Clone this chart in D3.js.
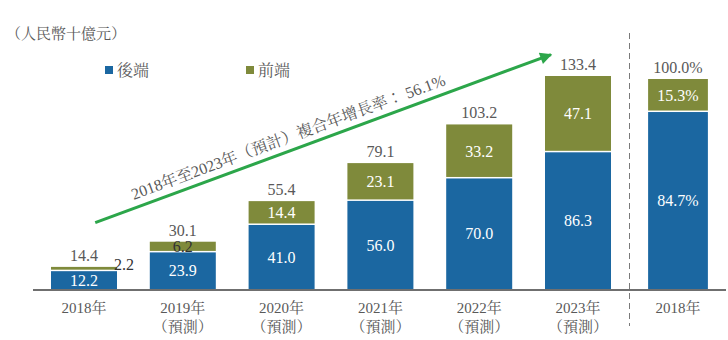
<!DOCTYPE html>
<html>
<head>
<meta charset="utf-8">
<script src="https://cdn.jsdelivr.net/npm/d3@7"></script>
<style>
  html, body { margin: 0; padding: 0; background: #fff; }
  svg { display: block; }
</style>
</head>
<body>
<svg id="chart" width="728" height="340"></svg>
<script>
// Market size by year, RMB billions
const years = ["2018年", "2019年", "2020年", "2021年", "2022年", "2023年"];
const yearNotes = ["", "（預測）", "（預測）", "（預測）", "（預測）", "（預測）"];
const backEnd = [12.2, 23.9, 41.0, 56.0, 70.0, 86.3];
const frontEnd = [2.2, 6.2, 14.4, 23.1, 33.2, 47.1];
const totals = [14.4, 30.1, 55.4, 79.1, 103.2, 133.4];

// 2018 share split, percent
const shareLabel = "2018年";
const shareBack = 84.7;
const shareFront = 15.3;
const shareTotal = 100.0;

const seriesNames = ["後端", "前端"];
const unitLabel = "（人民幣十億元）";
const cagrText = "2018年至2023年（預計）複合年增長率： 56.1%";

const BLUE = "#1b67a1";
const OLIVE = "#7f8a3b";
const ARROW = "#2ca64a";
const GREY = "#595959";
const FONT = "'Liberation Serif', 'Noto Serif CJK TC', 'Noto Sans CJK TC', serif";

const svg = d3.select("#chart");
const baseY = 290;

const x = d3.scaleBand().domain(years).range([34.6, 627.4])
  .paddingInner(0.332).paddingOuter(0.166);
const y = d3.scaleLinear().domain([0, 133.4]).range([baseY, 76]);

const xs = d3.scaleBand().domain([shareLabel]).range([629, 727])
  .paddingInner(0.39).paddingOuter(0.195);
const ys = d3.scaleLinear().domain([0, 100]).range([baseY, 79]);

const rows = years.map((yr, i) => ({
  yr, note: yearNotes[i], back: backEnd[i], front: frontEnd[i], total: totals[i]
}));

// unit label
svg.append("text").attr("x", 6).attr("y", 39)
  .attr("font-family", FONT).attr("font-size", 15).attr("fill", GREY)
  .text(unitLabel);

// legend
const legend = [
  { name: seriesNames[0], color: BLUE, x: 105 },
  { name: seriesNames[1], color: OLIVE, x: 246 }
];
const lg = svg.selectAll("g.legend").data(legend).join("g").attr("class", "legend")
  .attr("transform", d => `translate(${d.x},70)`);
lg.append("rect").attr("x", 0).attr("y", -4).attr("width", 8).attr("height", 8)
  .attr("fill", d => d.color);
lg.append("text").attr("x", 12).attr("y", 5.5)
  .attr("font-family", FONT).attr("font-size", 16).attr("fill", GREY)
  .text(d => d.name);

// stacked bars
const bars = svg.append("g");
bars.selectAll("rect.back").data(rows).join("rect").attr("class", "back")
  .attr("x", d => x(d.yr)).attr("width", x.bandwidth())
  .attr("y", d => y(d.back) + 0.75).attr("height", d => baseY - y(d.back) - 0.75)
  .attr("fill", BLUE);
bars.selectAll("rect.front").data(rows).join("rect").attr("class", "front")
  .attr("x", d => x(d.yr)).attr("width", x.bandwidth())
  .attr("y", d => y(d.total)).attr("height", d => y(d.back) - y(d.total) - 0.75)
  .attr("fill", OLIVE);

// share bar
svg.append("rect").attr("x", xs(shareLabel)).attr("width", xs.bandwidth())
  .attr("y", ys(shareBack) + 0.75).attr("height", baseY - ys(shareBack) - 0.75)
  .attr("fill", BLUE);
svg.append("rect").attr("x", xs(shareLabel)).attr("width", xs.bandwidth())
  .attr("y", ys(shareTotal)).attr("height", ys(shareBack) - ys(shareTotal) - 0.75)
  .attr("fill", OLIVE);

// axis baseline
svg.append("line").attr("x1", 33).attr("x2", 726).attr("y1", baseY).attr("y2", baseY)
  .attr("stroke", "#6f6f6f").attr("stroke-width", 2);

// divider between forecast and share panels
svg.append("line").attr("x1", 629.5).attr("x2", 629.5).attr("y1", 33).attr("y2", 326)
  .attr("stroke", "#7a7a7a").attr("stroke-width", 1).attr("stroke-dasharray", "6,4");

// value labels
const lab = svg.append("g").attr("font-family", FONT).attr("font-size", 16)
  .attr("text-anchor", "middle");
const cx = d => x(d.yr) + x.bandwidth() / 2;
const fmt = d3.format(".1f");

lab.selectAll("text.total").data(rows).join("text").attr("class", "total")
  .attr("x", cx).attr("y", d => y(d.total) - 6).attr("fill", GREY)
  .text(d => fmt(d.total));

lab.selectAll("text.back").data(rows).join("text").attr("class", "back")
  .attr("x", cx).attr("y", d => (y(d.back) + baseY) / 2 + 5.5).attr("fill", "#fff")
  .text(d => fmt(d.back));

// small front segments: text sits outside (first) or darkened (second)
lab.selectAll("text.front").data(rows).join("text").attr("class", "front")
  .attr("x", (d, i) => i === 0 ? x(d.yr) + x.bandwidth() + 7 : cx(d))
  .attr("y", (d, i) => i === 0 ? y(d.total) + 3 : (y(d.total) + y(d.back)) / 2 + 5.5)
  .attr("fill", (d, i) => i < 2 ? "#333" : "#fff")
  .text(d => fmt(d.front));

const scx = xs(shareLabel) + xs.bandwidth() / 2;
lab.append("text").attr("x", scx).attr("y", ys(shareTotal) - 6).attr("fill", GREY)
  .text(fmt(shareTotal) + "%");
lab.append("text").attr("x", scx).attr("y", (ys(shareTotal) + ys(shareBack)) / 2 + 5.5)
  .attr("fill", "#fff").text(fmt(shareFront) + "%");
lab.append("text").attr("x", scx).attr("y", (ys(shareBack) + baseY) / 2 + 5.5)
  .attr("fill", "#fff").text(fmt(shareBack) + "%");

// category labels
const cat = svg.append("g").attr("font-family", FONT).attr("font-size", 15)
  .attr("fill", GREY).attr("text-anchor", "middle");
cat.selectAll("text.yr").data(rows).join("text").attr("class", "yr")
  .attr("x", cx).attr("y", 313).text(d => d.yr);
cat.selectAll("text.note").data(rows.filter(d => d.note)).join("text").attr("class", "note")
  .attr("x", cx).attr("y", 332).text(d => d.note);
cat.append("text").attr("x", scx).attr("y", 313).text(shareLabel);

// growth arrow with its annotation
const defs = svg.append("defs");
defs.append("marker").attr("id", "head").attr("viewBox", "0 0 10 10")
  .attr("refX", 9).attr("refY", 5).attr("markerWidth", 5).attr("markerHeight", 4)
  .attr("markerUnits", "strokeWidth").attr("orient", "auto")
  .append("path").attr("d", "M0,0 L10,5 L0,10 Z").attr("fill", ARROW);

const a0 = [x(years[0]) + x.bandwidth() * 0.67, y(42)];
const a1 = [x(years[5]) + 10, y(147.7)];
svg.append("line").attr("x1", a0[0]).attr("y1", a0[1]).attr("x2", a1[0] - 4).attr("y2", a1[1] + 1.5)
  .attr("stroke", ARROW).attr("stroke-width", 3).attr("marker-end", "url(#head)");

const ang = Math.atan2(a1[1] - a0[1], a1[0] - a0[0]) * 180 / Math.PI;
const mx = a0[0] + (a1[0] - a0[0]) * 0.43;
const my = a0[1] + (a1[1] - a0[1]) * 0.43;
svg.append("text").attr("transform", `translate(${mx},${my}) rotate(${ang})`)
  .attr("y", -8).attr("text-anchor", "middle")
  .attr("font-family", FONT).attr("font-size", 16).attr("fill", GREY)
  .text(cagrText);
</script>
</body>
</html>
